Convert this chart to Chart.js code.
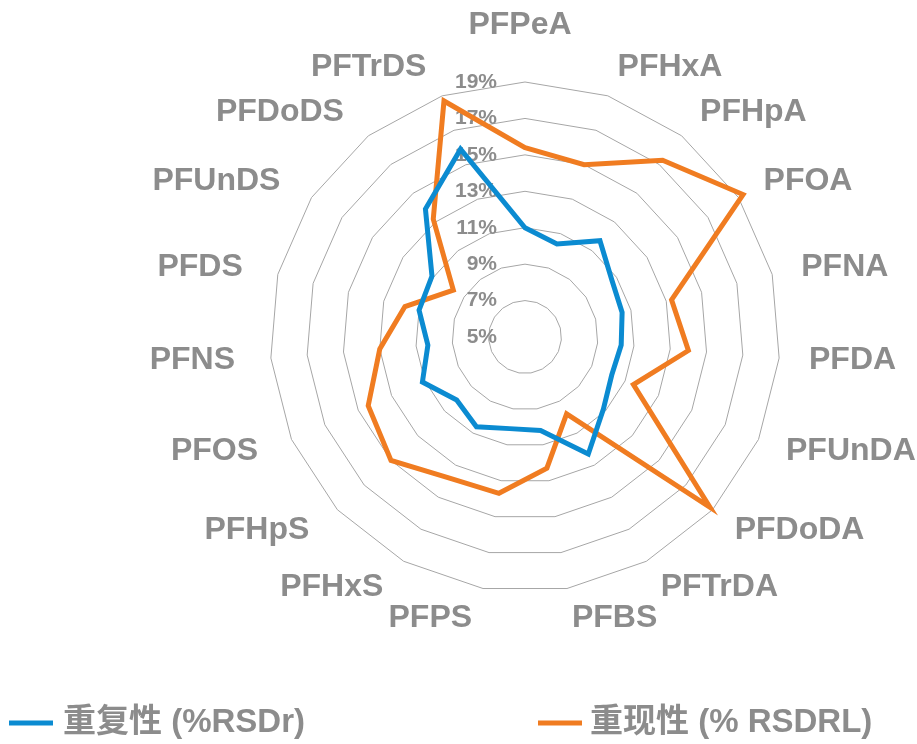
<!DOCTYPE html>
<html>
<head>
<meta charset="utf-8">
<script src="https://cdn.jsdelivr.net/npm/chart.js@4.4.1/dist/chart.umd.min.js"></script>
<style>
  html, body { margin: 0; padding: 0; background: #fff; }
  #wrap { width: 917px; height: 744px; }
</style>
</head>
<body>
<div id="wrap"><canvas id="radarChart"></canvas></div>
<script>
// compounds around the radar, clockwise from the top
const compounds = ['PFPeA', 'PFHxA', 'PFHpA', 'PFOA', 'PFNA', 'PFDA', 'PFUnDA', 'PFDoDA', 'PFTrDA',
    'PFBS', 'PFPS', 'PFHxS', 'PFHpS', 'PFOS', 'PFNS', 'PFDS', 'PFUnDS', 'PFDoDS', 'PFTrDS'];
// repeatability (%RSDr)
const rsdr = [11.0, 10.4, 11.7, 10.7, 10.5, 10.3, 10.2, 10.85, 12.3,
    10.2, 10.1, 10.6, 10.1, 11.15, 10.35, 11.0, 11.1, 13.9, 15.9];
// reproducibility (% RSDRL)
const rsdrl = [15.4, 15.0, 17.3, 19.3, 13.3, 14.0, 11.5, 18.8, 9.8,
    12.3, 13.7, 13.8, 15.0, 14.4, 13.0, 11.8, 9.7, 13.2, 18.7];
const tickValues = [5, 7, 9, 11, 13, 15, 17, 19];
const seriesNames = ['重复性 (%RSDr)', '重现性 (% RSDRL)'];

const textGray = '#8c8c8c';
const blue = '#0b8bd1';
const orange = '#f07c21';

// draws the % labels left of the axis and the compound names round the outside
const radarText = {
    id: 'radarText',
    beforeDatasetsDraw(chart) {
        const ctx = chart.ctx;
        const r = chart.scales.r;
        ctx.save();
        ctx.fillStyle = textGray;
        ctx.font = 'bold 21px "Liberation Sans", Arial, sans-serif';
        ctx.textAlign = 'right';
        ctx.textBaseline = 'middle';
        r.ticks.forEach(t => {
            ctx.fillText(t.value + '%', r.xCenter - 28, r.yCenter - r.getDistanceFromCenterForValue(t.value));
        });

        ctx.font = 'bold 32px "Liberation Sans", Arial, sans-serif';
        compounds.forEach((name, i) => {
            const p = r.getPointPosition(i, r.drawingArea + 30);
            const deg = i * 360 / compounds.length;
            if (deg === 0) {
                ctx.textAlign = 'center';
                ctx.fillText(name, p.x - 5, p.y - 27);
            } else if (deg < 180) {
                ctx.textAlign = 'left';
                ctx.fillText(name, p.x, p.y);
            } else {
                ctx.textAlign = 'right';
                ctx.fillText(name, p.x - 6, p.y);
            }
        });
        ctx.restore();
    },
    afterDraw(chart) {
        // legend along the bottom, spread out like the original
        const ctx = chart.ctx;
        const spots = [[9, 63], [538, 590]];
        const y = 723;
        ctx.save();
        ctx.font = 'bold 33px "Liberation Sans", "Noto Sans CJK SC", sans-serif';
        ctx.textAlign = 'left';
        ctx.textBaseline = 'middle';
        chart.data.datasets.forEach((ds, i) => {
            ctx.strokeStyle = ds.borderColor;
            ctx.lineWidth = 5;
            ctx.beginPath();
            ctx.moveTo(spots[i][0], y);
            ctx.lineTo(spots[i][0] + 44, y);
            ctx.stroke();
            ctx.fillStyle = textGray;
            ctx.fillText(ds.label, spots[i][1], y);
        });
        ctx.restore();
    }
};

const ch = document.getElementById('radarChart');
const radarChart = new Chart(ch, {
    type: 'radar',
    data: {
        labels: compounds,
        datasets: [{
            label: seriesNames[0],
            data: rsdr,
            borderColor: blue,
            backgroundColor: 'transparent',
            borderWidth: 5,
            pointRadius: 0,
            fill: false,
            clip: false
        }, {
            label: seriesNames[1],
            data: rsdrl,
            borderColor: orange,
            backgroundColor: 'transparent',
            borderWidth: 5,
            pointRadius: 0,
            fill: false,
            clip: false
        }]
    },
    options: {
        responsive: true,
        maintainAspectRatio: false,
        animation: false,
        layout: { padding: { left: 270, right: 137, top: 82, bottom: 152 } },
        elements: { line: { tension: 0, borderJoinStyle: 'miter' } },
        scales: {
            r: {
                min: 5,
                max: 19,
                afterBuildTicks: s => { s.ticks = tickValues.map(v => ({ value: v })); },
                ticks: { display: false },
                angleLines: { display: false },
                grid: { color: '#a6a6a6', lineWidth: 1 },
                pointLabels: { display: false }
            }
        },
        plugins: {
            legend: { display: false },
            tooltip: { enabled: false }
        }
    },
    plugins: [radarText]
});
</script>
</body>
</html>
